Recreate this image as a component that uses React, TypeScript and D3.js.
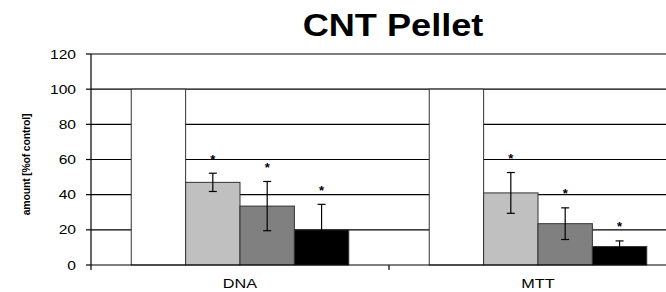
import * as d3 from 'd3';
import React, { useRef, useEffect } from 'react';

const categories = ['DNA', 'MTT'];
const seriesNames = ['control', 'dose 1', 'dose 2', 'dose 3'];
const dnaValues = [100, 47, 33.5, 20];
const dnaErrors = [0, 5.2, 14, 14.5];
const mttValues = [100, 41, 23.5, 10.5];
const mttErrors = [0, 11.6, 9, 3.2];
const significant = [false, true, true, true];
const yTicks = [0, 20, 40, 60, 80, 100, 120];

const colors = ['#ffffff', '#c0c0c0', '#808080', '#000000'];

const WIDTH = 666;
const HEIGHT = 292;

function App() {
  const ref = useRef<SVGSVGElement>(null);

  useEffect(() => {
    const svg = d3.select(ref.current);
    svg.selectAll('*').remove();

    const margin = { left: 91, top: 54, bottom: 265 };
    const x = d3.scaleBand().domain(categories).range([margin.left, 687]).padding(0);
    const xs = d3.scaleBand().domain(seriesNames).range([0, x.bandwidth()]).paddingInner(0).paddingOuter(0.74);
    const y = d3.scaleLinear().domain([0, 120]).range([margin.bottom, margin.top]);

    const rows = categories.map((c, i) => ({
      cat: c,
      values: i === 0 ? dnaValues : mttValues,
      errors: i === 0 ? dnaErrors : mttErrors,
    }));

    // gridlines
    svg
      .append('g')
      .selectAll('line')
      .data(yTicks.filter((t) => t > 0))
      .enter()
      .append('line')
      .attr('x1', margin.left)
      .attr('x2', 687)
      .attr('y1', (d) => y(d))
      .attr('y2', (d) => y(d))
      .attr('stroke', '#000')
      .attr('stroke-width', 1.2);

    // bars
    const groups = svg
      .append('g')
      .selectAll('g')
      .data(rows)
      .enter()
      .append('g')
      .attr('transform', (d) => `translate(${x(d.cat)},0)`);

    groups
      .selectAll('rect')
      .data((d) => d.values.map((v, i) => ({ v, i, e: d.errors[i] })))
      .enter()
      .append('rect')
      .attr('x', (d) => xs(seriesNames[d.i]) as number)
      .attr('width', xs.bandwidth())
      .attr('y', (d) => y(d.v))
      .attr('height', (d) => y(0) - y(d.v))
      .attr('fill', (d) => colors[d.i])
      .attr('stroke', '#333')
      .attr('stroke-width', 1);

    // error bars
    const errs = groups
      .selectAll('g.err')
      .data((d) => d.values.map((v, i) => ({ v, i, e: d.errors[i] })).filter((d) => d.e > 0))
      .enter()
      .append('g')
      .attr('class', 'err')
      .attr('transform', (d) => `translate(${(xs(seriesNames[d.i]) as number) + xs.bandwidth() / 2},0)`);

    errs
      .append('line')
      .attr('y1', (d) => y(d.v + d.e))
      .attr('y2', (d) => y(d.v - d.e))
      .attr('stroke', '#000')
      .attr('stroke-width', 1.2);
    errs
      .append('line')
      .attr('x1', -4)
      .attr('x2', 4)
      .attr('y1', (d) => y(d.v + d.e))
      .attr('y2', (d) => y(d.v + d.e))
      .attr('stroke', '#000')
      .attr('stroke-width', 1.2);
    errs
      .append('line')
      .attr('x1', -4)
      .attr('x2', 4)
      .attr('y1', (d) => y(d.v - d.e))
      .attr('y2', (d) => y(d.v - d.e))
      .attr('stroke', '#000')
      .attr('stroke-width', 1.2);

    // significance stars
    errs
      .filter((d) => significant[d.i])
      .append('text')
      .attr('y', (d) => y(d.v + d.e) - 9.5)
      .attr('text-anchor', 'middle')
      .style('font-family', 'Arial, Liberation Sans, sans-serif')
      .style('font-size', '13px')
      .style('font-weight', 'bold')
      .text('*');

    // axes
    svg
      .append('line')
      .attr('x1', margin.left)
      .attr('x2', margin.left)
      .attr('y1', y(120))
      .attr('y2', y(0) + 5)
      .attr('stroke', '#000')
      .attr('stroke-width', 1.2);
    svg
      .append('line')
      .attr('x1', margin.left)
      .attr('x2', 687)
      .attr('y1', y(0))
      .attr('y2', y(0))
      .attr('stroke', '#000')
      .attr('stroke-width', 1.2);

    svg
      .append('g')
      .selectAll('line')
      .data(categories.slice(1))
      .enter()
      .append('line')
      .attr('x1', (d) => x(d) as number)
      .attr('x2', (d) => x(d) as number)
      .attr('y1', y(0))
      .attr('y2', y(0) + 5)
      .attr('stroke', '#000')
      .attr('stroke-width', 1.2);

    const yAxis = svg.append('g');
    yAxis
      .selectAll('line')
      .data(yTicks)
      .enter()
      .append('line')
      .attr('x1', margin.left - 5)
      .attr('x2', margin.left)
      .attr('y1', (d) => y(d))
      .attr('y2', (d) => y(d))
      .attr('stroke', '#000')
      .attr('stroke-width', 1.2);
    yAxis
      .selectAll('text')
      .data(yTicks)
      .enter()
      .append('text')
      .attr('transform', (d) => `translate(76,${y(d) + 4.5}) scale(1.3,1)`)
      .attr('text-anchor', 'end')
      .style('font-family', 'Arial, Liberation Sans, sans-serif')
      .style('font-size', '12px')
      .text((d) => d);

    svg
      .append('g')
      .selectAll('text')
      .data(categories)
      .enter()
      .append('text')
      .attr('transform', (d) => `translate(${(x(d) as number) + x.bandwidth() / 2},287.5) scale(1.3,1)`)
      .attr('text-anchor', 'middle')
      .style('font-family', 'Arial, Liberation Sans, sans-serif')
      .style('font-size', '12.5px')
      .text((d) => d);

    svg
      .append('text')
      .attr('transform', `translate(29.5,${(y(120) + y(0)) / 2 + 5}) rotate(-90)`)
      .attr('text-anchor', 'middle')
      .style('font-family', 'Arial, Liberation Sans, sans-serif')
      .style('font-size', '10.5px')
      .style('font-weight', 'bold')
      .style('letter-spacing', '-0.2px')
      .text('amount [%of control]');

    svg
      .append('text')
      .attr('transform', `translate(393,35.5) scale(1.13,1)`)
      .attr('text-anchor', 'middle')
      .style('font-family', 'Arial, Liberation Sans, sans-serif')
      .style('font-size', '32px')
      .style('font-weight', 'bold')
      .text('CNT Pellet');
  }, []);

  return (
    <svg
      ref={ref}
      width={WIDTH}
      height={HEIGHT}
      style={{ position: 'absolute', left: 0, top: 0, background: '#fff' }}
    />
  );
}

export default App;
